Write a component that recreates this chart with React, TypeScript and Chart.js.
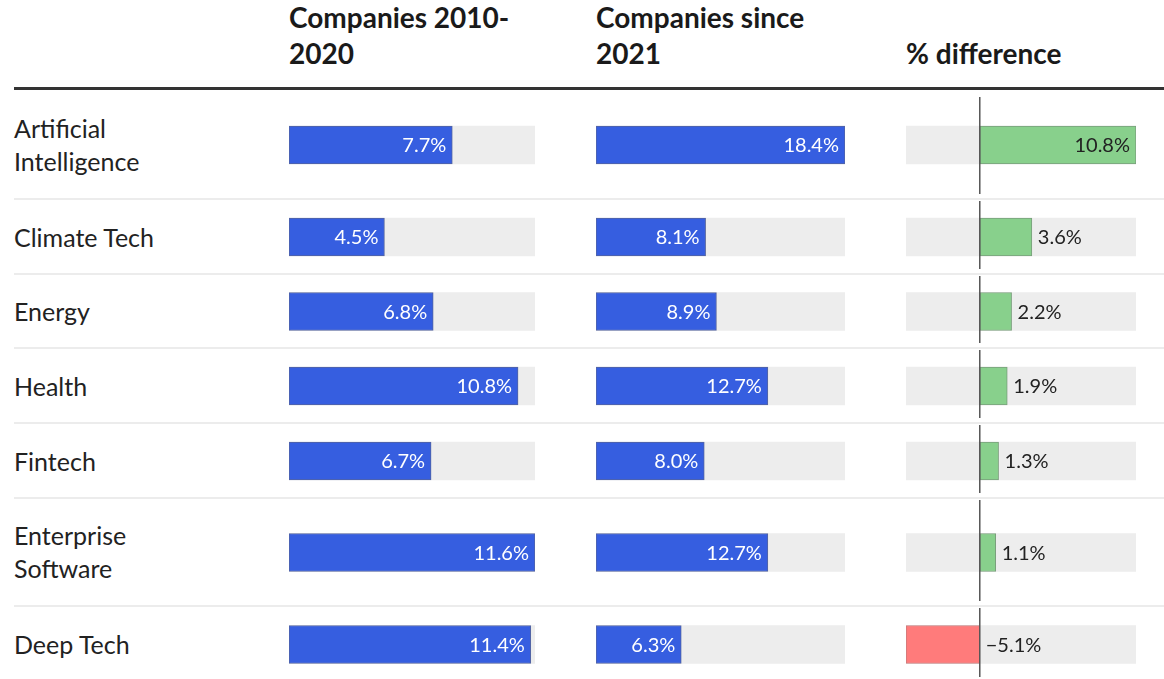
import React, { useEffect, useRef } from "react";
import { Chart, registerables } from "chart.js";

Chart.register(...registerables);

// ---------- data ----------
const categories: string[][] = [
  ["Artificial", "Intelligence"],
  ["Climate Tech"],
  ["Energy"],
  ["Health"],
  ["Fintech"],
  ["Enterprise", "Software"],
  ["Deep Tech"],
];
const companies2010to2020 = [7.7, 4.5, 6.8, 10.8, 6.7, 11.6, 11.4];
const companiesSince2021 = [18.4, 8.1, 8.9, 12.7, 8.0, 12.7, 6.3];
const percentDifference = [10.8, 3.6, 2.2, 1.9, 1.3, 1.1, -5.1];
const columnHeaders: string[][] = [
  ["Companies 2010-", "2020"],
  ["Companies since", "2021"],
  ["% difference"],
];

// ---------- layout / style ----------
const FONT = "Lato, 'Noto Sans', sans-serif";
const ROW_TOPS = [90, 199, 274, 348, 423, 498, 606];
const ROW_END = 682;
const COLS = [
  { x: 289, w: 246 },
  { x: 596, w: 249 },
  { x: 906, w: 230 },
];
const BLUE = "#365ee0";
const BLUE_BORDER = "#5565a0";
const GREEN = "#88d08c";
const GREEN_BORDER = "#7a9f7c";
const RED = "#ff7b7b";
const RED_BORDER = "#c47a7a";
const TRACK = "#ededed";

const fmt = (v: number) => (v < 0 ? "\u2212" : "") + Math.abs(v).toFixed(1) + "%";

const valueLabelPlugin = {
  id: "valueLabel",
  afterDatasetsDraw(chart: any, _args: any, opts: any) {
    const { ctx } = chart;
    const meta = chart.getDatasetMeta(0);
    const bar: any = meta.data[0];
    if (!bar) return;
    const value: number = opts.value;
    const kind: string = opts.kind;
    const xs = chart.scales.x;
    ctx.save();
    if (kind === "diff") {
      const x0 = xs.getPixelForValue(0);
      ctx.strokeStyle = "#555";
      ctx.lineWidth = 1.5;
      ctx.beginPath();
      ctx.moveTo(x0, opts.lineTop);
      ctx.lineTo(x0, chart.height - 5);
      ctx.stroke();
    }
    ctx.font = `20px ${FONT}`;
    ctx.textBaseline = "middle";
    const text = fmt(value);
    const tw = ctx.measureText(text).width;
    const endX = xs.getPixelForValue(value);
    const zeroX = xs.getPixelForValue(0);
    if (kind === "blue") {
      ctx.fillStyle = "#ffffff";
      ctx.textAlign = "right";
      ctx.fillText(text, endX - 6, bar.y + 1);
    } else {
      ctx.fillStyle = "#222";
      if (value < 0) {
        ctx.textAlign = "left";
        ctx.fillText(text, zeroX + 6, bar.y + 1);
      } else if (endX - zeroX > tw + 14) {
        ctx.textAlign = "right";
        ctx.fillText(text, endX - 6, bar.y + 1);
      } else {
        ctx.textAlign = "left";
        ctx.fillText(text, endX + 6, bar.y + 1);
      }
    }
    ctx.restore();
  },
};

type CellProps = {
  value: number;
  min: number;
  max: number;
  kind: "blue" | "diff";
  width: number;
  height: number;
  lineTop: number;
};

function BarCell({ value, min, max, kind, width, height, lineTop }: CellProps) {
  const ref = useRef<HTMLCanvasElement>(null);
  useEffect(() => {
    if (!ref.current) return;
    const fill = kind === "blue" ? BLUE : value < 0 ? RED : GREEN;
    const border = kind === "blue" ? BLUE_BORDER : value < 0 ? RED_BORDER : GREEN_BORDER;
    const chart = new Chart(ref.current, {
      type: "bar",
      data: {
        labels: ["row"],
        datasets: [
          {
            data: [[0, value]] as any,
            backgroundColor: fill,
            borderColor: border,
            borderWidth: 1,
            borderSkipped: false,
            barThickness: 38,
            grouped: false,
            order: 0,
          },
          {
            data: [[min, max]] as any,
            backgroundColor: TRACK,
            borderWidth: 0,
            barThickness: 38,
            grouped: false,
            order: 1,
          },
        ],
      },
      options: {
        indexAxis: "y",
        responsive: false,
        maintainAspectRatio: false,
        animation: false,
        events: [],
        layout: { padding: 0 },
        scales: {
          x: { type: "linear", min, max, display: false },
          y: { type: "category", display: false },
        },
        plugins: {
          legend: { display: false },
          tooltip: { enabled: false },
          valueLabel: { value, kind, lineTop },
        } as any,
      },
      plugins: [valueLabelPlugin],
    });
    return () => chart.destroy();
  }, [value, min, max, kind, width, height, lineTop]);
  return <canvas ref={ref} width={width} height={height} style={{ display: "block", width, height }} />;
}

export default function App() {
  const domains = [
    { min: 0, max: Math.max(...companies2010to2020) },
    { min: 0, max: Math.max(...companiesSince2021) },
    { min: Math.min(...percentDifference), max: Math.max(...percentDifference) },
  ];
  const series = [companies2010to2020, companiesSince2021, percentDifference];

  return (
    <div
      style={{
        position: "absolute",
        left: 0,
        top: 0,
        width: 1164,
        height: 679,
        overflow: "hidden",
        background: "#fff",
        fontFamily: FONT,
        color: "#222",
      }}
    >
      {columnHeaders.map((lines, ci) => (
        <div
          key={"h" + ci}
          style={{
            position: "absolute",
            left: COLS[ci].x,
            bottom: 679 - 71,
            fontWeight: 700,
            fontSize: 28,
            lineHeight: "36px",
            color: "#1a1a1a",
            whiteSpace: "nowrap",
          }}
        >
          {lines.map((l, i) => (
            <div key={i}>{l}</div>
          ))}
        </div>
      ))}
      <div style={{ position: "absolute", left: 14, top: 87, width: 1150, height: 3, background: "#333" }} />
      {categories.map((lines, ri) => {
        const top = ROW_TOPS[ri];
        const bottom = ri + 1 < ROW_TOPS.length ? ROW_TOPS[ri + 1] : ROW_END;
        const h = bottom - top;
        return (
          <React.Fragment key={"r" + ri}>
            {ri > 0 && (
              <div style={{ position: "absolute", left: 14, top: top - 1, width: 1150, height: 2, background: "#ececec" }} />
            )}
            <div
              style={{
                position: "absolute",
                left: 14,
                top: top + h / 2,
                transform: "translateY(-50%)",
                fontSize: 25,
                lineHeight: "33px",
                whiteSpace: "nowrap",
              }}
            >
              {lines.map((l, i) => (
                <div key={i}>{l}</div>
              ))}
            </div>
            {COLS.map((c, ci) => (
              <div key={ci} style={{ position: "absolute", left: c.x, top: top + 1, width: c.w, height: h - 1 }}>
                <BarCell
                  value={series[ci][ri]}
                  min={domains[ci].min}
                  max={domains[ci].max}
                  kind={ci < 2 ? "blue" : "diff"}
                  width={c.w}
                  height={h - 1}
                  lineTop={ri === 0 ? 6 : 1}
                />
              </div>
            ))}
          </React.Fragment>
        );
      })}
    </div>
  );
}
